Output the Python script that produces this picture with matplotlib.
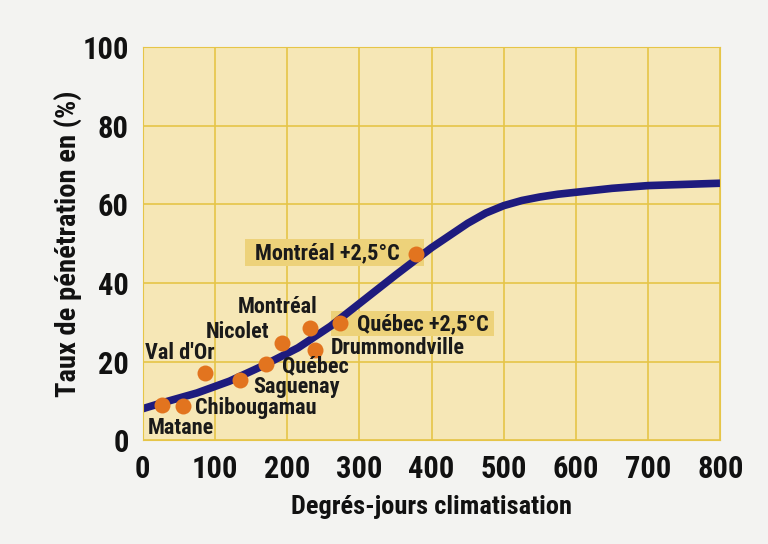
import os
import matplotlib
matplotlib.use("Agg")
import matplotlib.pyplot as plt
from matplotlib import font_manager as fm
from matplotlib.patches import Rectangle

# ── Data ─────────────────────────────────────────────────────
curve_x = [0, 25, 75, 120, 165, 215, 260, 305, 350, 400, 450, 475, 500, 525, 550, 575,
           600, 650, 700, 800]
curve_y = [8, 9.4, 12, 15, 18.8, 23.5, 29, 35.5, 42, 49, 55.2, 57.8, 59.7, 61.0, 61.9, 62.6,
           63.1, 64.1, 64.8, 65.4]

cities   = ["Matane", "Chibougamau", "Val d'Or", "Saguenay", "Québec", "Nicolet",
            "Montréal", "Drummondville", "Québec +2,5°C", "Montréal +2,5°C"]
city_x   = [26, 55, 86, 135, 171, 193, 232, 239, 273, 378]
city_y   = [9, 8.7, 17, 15.2, 19.4, 24.8, 28.6, 22.9, 29.7, 47.4]

x_ticks = [0, 100, 200, 300, 400, 500, 600, 700, 800]
y_ticks = [0, 20, 40, 60, 80, 100]

# label placement (data coords) and alignment
label_pos = {
    "Matane":          (53, 3, "center"),
    "Chibougamau":     (72, 8.1, "left"),
    "Val d'Or":        (51, 22.3, "center"),
    "Saguenay":        (153, 13.6, "left"),
    "Québec":          (193, 18.7, "left"),
    "Nicolet":         (131, 27.4, "center"),
    "Montréal":        (186, 33.8, "center"),
    "Drummondville":   (260, 23.5, "left"),
    "Québec +2,5°C":   (297, 29.5, "left"),
    "Montréal +2,5°C": (156, 47.6, "left"),
}
# highlighted boxes (x0, y0, w, h)
boxes = [(260, 26.4, 226, 6.4), (142, 44.4, 247, 6.9)]

# ── Pick a condensed bold face if one is installed ───────────
wanted = ["LiberationSansNarrow-Bold.ttf", "RobotoCondensed-Bold.ttf",
          "NotoSans-CondensedBold.ttf", "OpenSans-CondensedBold.ttf",
          "DejaVuSansCondensed-Bold.ttf"]
files = {os.path.basename(f.fname): f.fname for f in fm.fontManager.ttflist}
font_file = next((files[w] for w in wanted if w in files), None)
if font_file:
    fp = fm.FontProperties(fname=font_file)
else:
    fp = fm.FontProperties(family="DejaVu Sans", weight="bold", stretch="condensed")

def fprop(size):
    p = fp.copy()
    p.set_size(size)
    return p

fig = plt.figure(figsize=(7.68, 5.44), dpi=100, facecolor="#F3F3F1")
ax = fig.add_axes([0.186, 0.191, 0.752, 0.722])
ax.set_facecolor("#F6E7B6")

ax.set_xlim(0, 800)
ax.set_ylim(0, 100)
ax.set_xticks(x_ticks)
ax.set_yticks(y_ticks)
ax.grid(True, color="#E6C548", linewidth=1.2)
ax.set_axisbelow(True)
for s in ax.spines.values():
    s.set_color("#E6C548")
ax.tick_params(length=0, pad=10)
for lab in ax.get_xticklabels() + ax.get_yticklabels():
    lab.set_fontproperties(fprop(22))
    lab.set_color("#111111")

for (bx, by, bw, bh) in boxes:
    ax.add_patch(Rectangle((bx, by), bw, bh, facecolor="#EDD27A", edgecolor="none", zorder=1.5))

ax.plot(curve_x, curve_y, color="#1E1B7E", linewidth=5.5, solid_capstyle="butt", zorder=2)
ax.plot(city_x, city_y, "o", color="#E2741F", markersize=11.5, markeredgewidth=0, zorder=3)

for name in cities:
    tx, ty, ha = label_pos[name]
    ax.text(tx, ty, name, ha=ha, va="center", fontproperties=fprop(16),
            color="#1A1A1A", zorder=4)

ax.set_xlabel("Degrés-jours climatisation", fontproperties=fprop(19), color="#111111")
ax.set_ylabel("Taux de pénétration en (%)", fontproperties=fprop(20.5), color="#111111")
ax.xaxis.set_label_coords(0.5, -0.14)
ax.yaxis.set_label_coords(-0.105, 0.5)

fig.savefig("out.png", dpi=100, facecolor=fig.get_facecolor())
